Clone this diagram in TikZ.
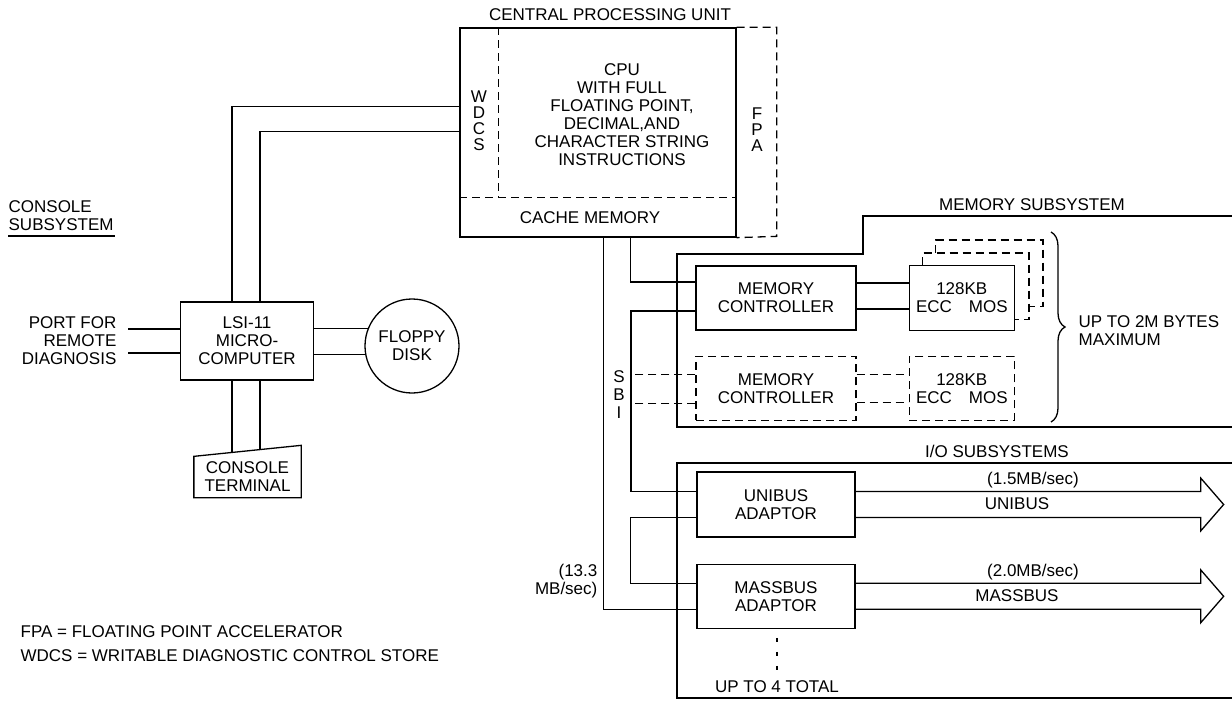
\documentclass[tikz,border=0pt]{standalone}
\usepackage{fontspec}
\setmainfont{Liberation Sans}
\usetikzlibrary{positioning, calc, decorations.pathreplacing}

\begin{document}
\begin{tikzpicture}[
    x=1pt, y=-1pt,
    line width=1.3pt,
    every node/.style={font=\fontsize{17}{18}\selectfont, align=center, inner sep=0pt},
    box/.style={rectangle, draw, minimum width=160pt, minimum height=64pt},
    dbox/.style={box, dash pattern=on 8pt off 5pt},
    dashline/.style={dash pattern=on 8pt off 5pt},
    stack/.style={font=\fontsize{17}{16}\selectfont},
    bigarrow/.style={line join=miter}
]
\useasboundingbox (0,0) rectangle (1232,701);

% Central processing unit
\node[box, minimum width=276pt, minimum height=209pt] (cpu) at (598,132.5) {};
\node (cputitle) at (610,15) {CENTRAL PROCESSING UNIT};
\node (cputext) at (622,115) {CPU\\WITH FULL\\FLOATING POINT,\\DECIMAL,AND\\CHARACTER STRING\\INSTRUCTIONS};
\node (cache) at (590,218) {CACHE MEMORY};
\node[stack] (wdcs) at (479,121) {W\\D\\C\\S};
\node[stack] (fpa) at (757,130) {F\\P\\A};
\draw[dashline] ($(cpu.south west)+(0,-40)$) -- ($(cpu.south east)+(0,-40)$);
\draw[dashline] ($(cpu.north west)+(39,0)$) -- ($(cpu.south west)+(39,-40)$);
\draw[dashline] (cpu.north east) -- ++(40,0) -- ++(0,209) -- (cpu.south east);

% Console subsystem
\node[anchor=west, align=left] (consub) at (8,216) {CONSOLE\\SUBSYSTEM};
\draw ($(consub.west)+(0,20)$) -- ++(107,0);
\node[box, minimum width=133pt, minimum height=78pt] (lsi) at (247,341) {LSI-11\\MICRO-\\COMPUTER};
\node[draw, circle, minimum size=94pt] (floppy) at (412,346) {FLOPPY\\DISK};
\node[minimum width=106pt, minimum height=40pt] (term) at (247.5,477) {CONSOLE\\TERMINAL};
\draw (term.south west) -- (term.north west) -- ($(term.north east)+(0,-11)$) -- (term.south east) -- cycle;
\node[anchor=east, align=right] (port) at (117,341) {PORT FOR\\REMOTE\\DIAGNOSIS};
\coordinate (port1) at (128,329);
\coordinate (port2) at (128,353);

\draw (port1) -- (port1 -| lsi.west);
\draw (port2) -- (port2 -| lsi.west);
\draw (lsi.east |- floppy.158) -- (floppy.158);
\draw (lsi.east |- floppy.190) -- (floppy.190);
\draw ($(lsi.north west)+(52,0)$) |- ($(cpu.north west)+(0,79)$);
\draw ($(lsi.north west)+(80,0)$) |- ($(cpu.north west)+(0,104)$);
\draw ($(lsi.south west)+(52,0)$) -- ($(term.north west)+(38,-4)$);
\draw ($(lsi.south west)+(80,0)$) -- ($(term.north west)+(66,-7)$);

% Memory subsystem
\draw (1232,216) -| (863,254) -| (677,427) -- (1232,427);
\node (memtitle) at (1032,205) {MEMORY SUBSYSTEM};
\node[box] (mc1) at (776,298) {MEMORY\\CONTROLLER};
\node[box, minimum width=105pt, minimum height=65pt, right=52pt of mc1] (mos1) {128KB\\ECC\quad MOS};
\node[dbox, below=25pt of mc1] (mc2) {MEMORY\\CONTROLLER};
\node[dbox, minimum width=105pt, right=52pt of mc2] (mos2) {128KB\\ECC\quad MOS};
\draw[dashline] ($(mos1.north west)+(14,0)$) -- ++(0,-12) -| ($(mos1.south east)+(14,-12)$) -- ++(-14,0);
\draw[dashline] ($(mos1.north west)+(27,-12)$) -- ++(0,-13) -| ($(mos1.south east)+(28,-25)$) -- ++(-14,0);
\draw ($(mc1.east)+(0,-15)$) coordinate (m1a) -- (m1a -| mos1.west);
\draw ($(mc1.east)+(0,11)$) coordinate (m1b) -- (m1b -| mos1.west);
\draw[dashline] ($(mc2.east)+(0,-14)$) coordinate (m2a) -- (m2a -| mos2.west);
\draw[dashline] ($(mc2.east)+(0,14)$) coordinate (m2b) -- (m2b -| mos2.west);
\draw[decorate, decoration={brace, amplitude=14pt}] (1051,232) -- (1051,422);
\node[anchor=west, align=left] (maxmem) at (1078,331) {UP TO 2M BYTES\\MAXIMUM};

% I/O subsystems
\draw (1232,463) -| (677,698) -- (1232,698);
\node (iotitle) at (997,451) {I/O SUBSYSTEMS};
\node[box, minimum width=158pt, minimum height=65pt] (unibus) at (776,504.5) {UNIBUS\\ADAPTOR};
\node[box, minimum width=158pt, below=26pt of unibus] (massbus) {MASSBUS\\ADAPTOR};
\draw[bigarrow] ($(unibus.east)+(0,-13)$) -- ++(345,0) -- ++(0,-13.5) -- ++(23,26.5) -- ++(-23,26.5) -- ++(0,-13.5) -- ($(unibus.east)+(0,13)$);
\draw[bigarrow] ($(massbus.east)+(0,-13)$) -- ++(345,0) -- ++(0,-13.5) -- ++(23,26.5) -- ++(-23,26.5) -- ++(0,-13.5) -- ($(massbus.east)+(0,13)$);
\node (unirate) at (1033,480) {(1.5MB/sec)};
\node (uniname) at (1017,504) {UNIBUS};
\node (massrate) at (1033,572) {(2.0MB/sec)};
\node (massname) at (1017,596) {MASSBUS};
\draw[dash pattern=on 4pt off 10pt] ($(massbus.south)+(1,9)$) -- ($(massbus.south)+(1,45)$);
\node (iocount) at (777,687) {UP TO 4 TOTAL};

% SBI
\coordinate (sbibus) at (631,420);
\draw ($(cpu.south west)+(144,0)$) |- ($(massbus.west)+(0,13)$);
\draw ($(cpu.south west)+(171,0)$) |- ($(mc1.west)+(0,-16)$);
\draw ($(mc1.west)+(0,13)$) -| (sbibus) |- ($(unibus.west)+(0,-13)$);
\draw ($(unibus.west)+(0,13)$) -- ++(-66,0) |- ($(massbus.west)+(0,-13)$);
\draw[dashline] ($(mc2.west)+(0,-14)$) coordinate (s1) -- (s1 -| sbibus);
\draw[dashline] ($(mc2.west)+(0,15)$) coordinate (s2) -- (s2 -| sbibus);
\node (sbi) at (619,395) {S\\B\\I};
\node[anchor=east, align=right] (sbirate) at (598,581) {(13.3\\MB/sec)};

% Legend
\node[anchor=west, align=left, font=\fontsize{17}{24}\selectfont] (legend) at (20,644) {FPA = FLOATING POINT ACCELERATOR\\WDCS = WRITABLE DIAGNOSTIC CONTROL STORE};

\end{tikzpicture}
\end{document}
